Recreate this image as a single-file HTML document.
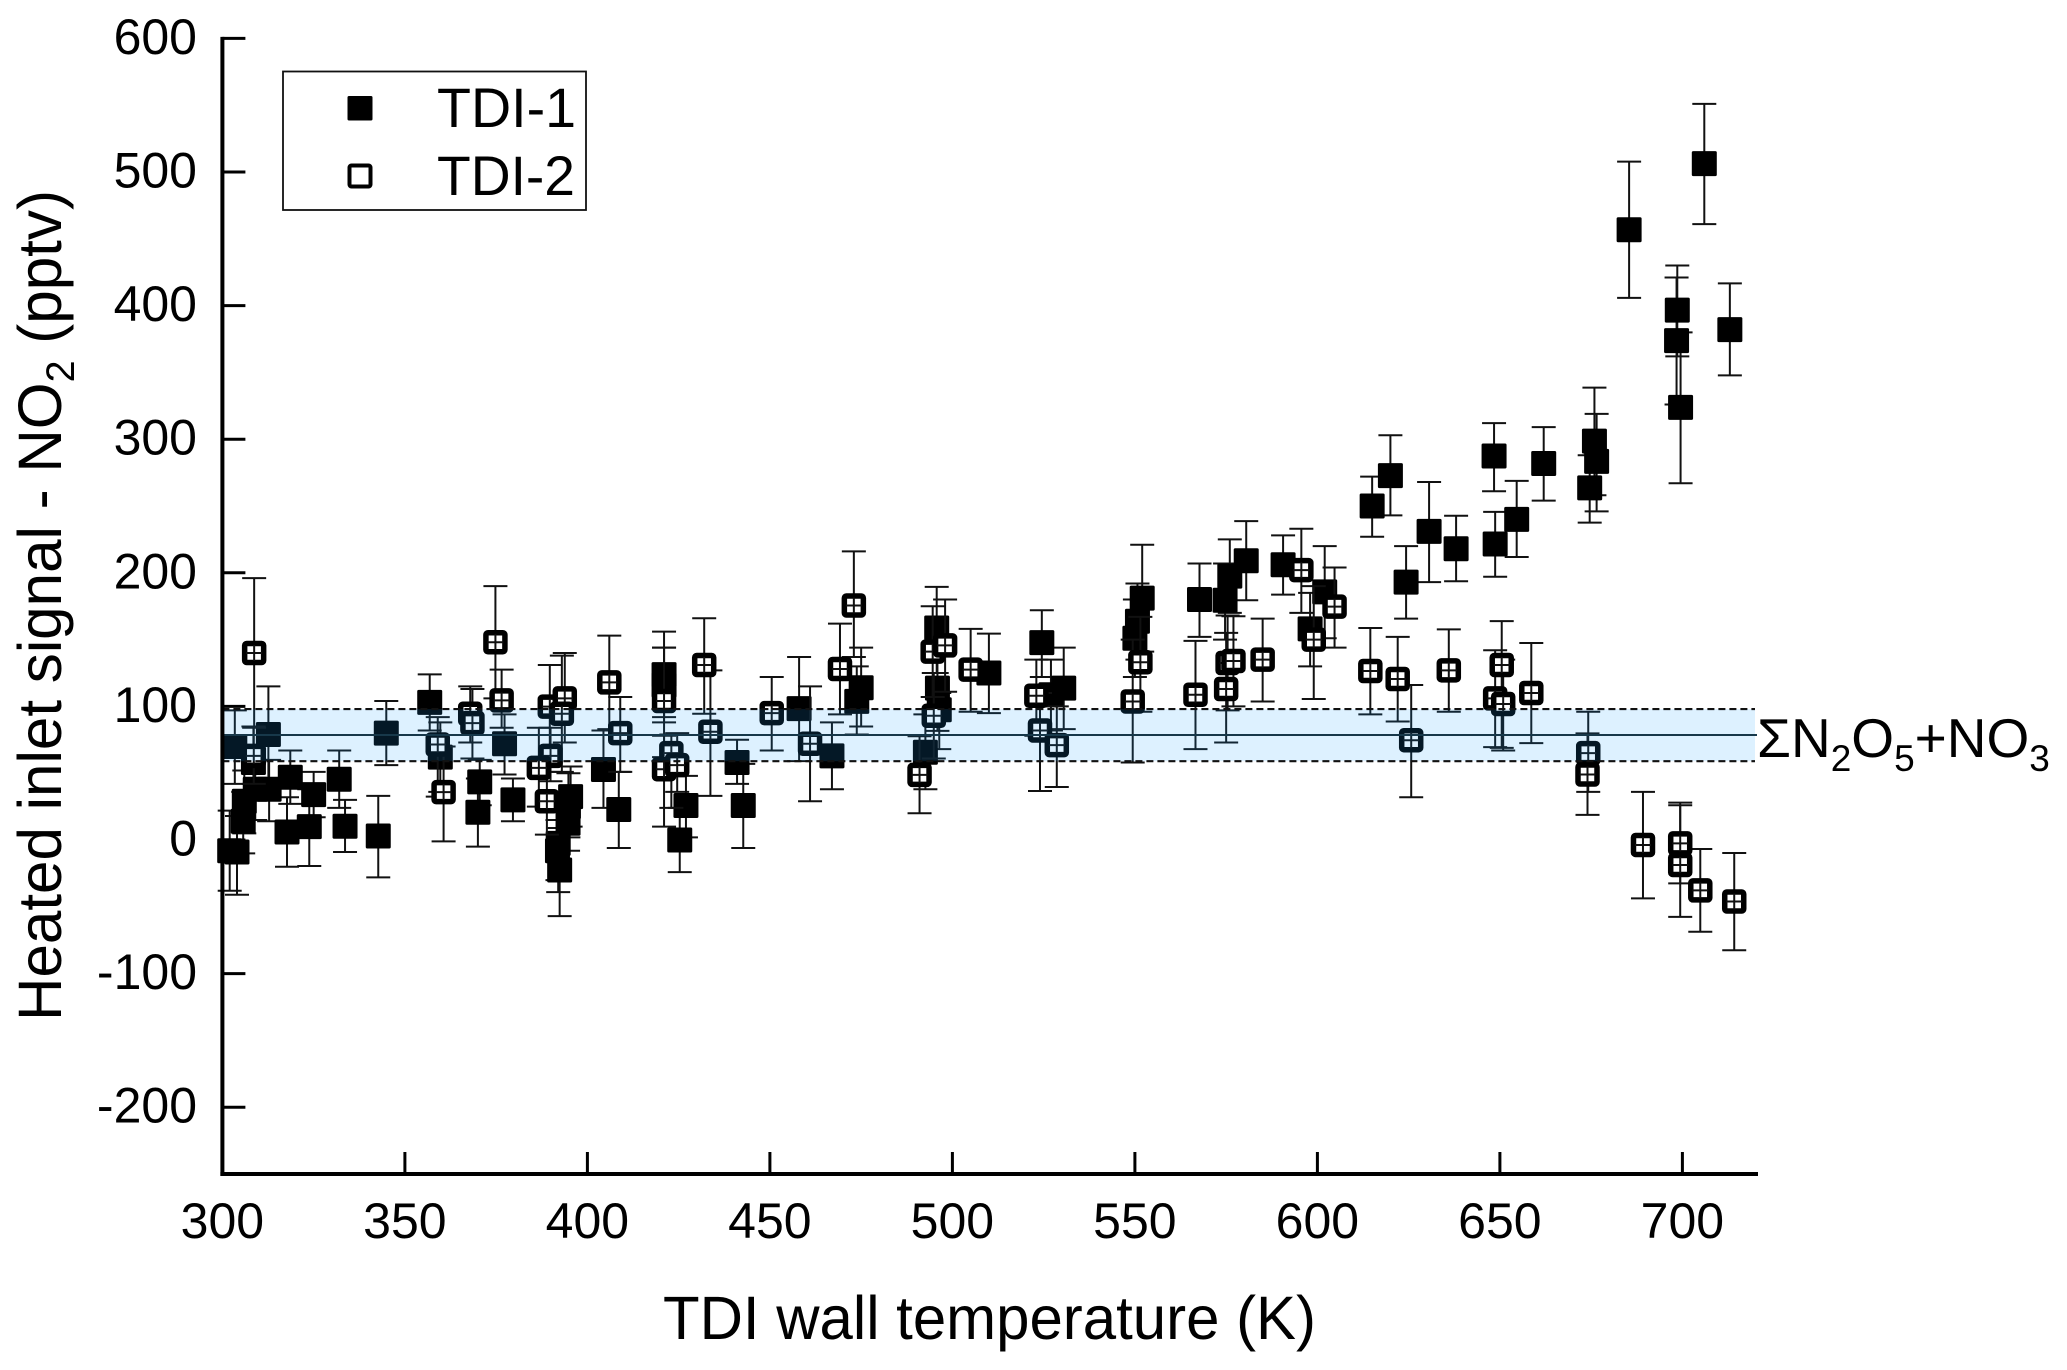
<!DOCTYPE html>
<html lang="en">
<head>
<meta charset="utf-8">
<title>Heated inlet signal vs TDI wall temperature</title>
<style>
html,body{margin:0;padding:0;background:#fff;width:2067px;height:1370px;overflow:hidden}
svg{display:block}
text{font-family:"Liberation Sans",Arial,sans-serif;fill:#000}
</style>
</head>
<body>
<svg id="chart" width="2067" height="1370" viewBox="0 0 2067 1370" xmlns="http://www.w3.org/2000/svg">
  <g id="marks-1"></g>
  <g id="marks-2"></g>
  <g id="band"></g>
  <g id="axes"></g>
  <text transform="translate(61,1021) rotate(-90)" font-size="61" textLength="831" lengthAdjust="spacingAndGlyphs">Heated inlet signal - NO<tspan font-size="40" dy="13">2</tspan><tspan dy="-13"> (pptv)</tspan></text>
  <text x="663" y="1339" font-size="61" textLength="653" lengthAdjust="spacingAndGlyphs">TDI wall temperature (K)</text>
  <text x="1757" y="757" font-size="55">ΣN<tspan font-size="37" dy="14">2</tspan><tspan dy="-14">O</tspan><tspan font-size="37" dy="14">5</tspan><tspan dy="-14">+NO</tspan><tspan font-size="37" dy="14">3</tspan></text>
  <g>
    <rect x="283" y="71.5" width="303" height="138.5" fill="#fff" stroke="#111" stroke-width="1.8"/>
    <rect x="347.5" y="96" width="25" height="24.5" rx="1.5" fill="#000"/>
    <rect x="349.5" y="165.5" width="21" height="21" rx="2" fill="#fff" stroke="#000" stroke-width="4"/>
    <text x="437" y="127" font-size="56" textLength="139" lengthAdjust="spacingAndGlyphs">TDI-1</text>
    <text x="437" y="195" font-size="56" textLength="138" lengthAdjust="spacingAndGlyphs">TDI-2</text>
  </g>
</svg>
<script>
const xTicks = [300, 350, 400, 450, 500, 550, 600, 650, 700];
const yTicks = [600, 500, 400, 300, 200, 100, 0, -100, -200];
const bandUpper = 98;
const bandLower = 59;
const bandMean = 78.6;

const tdi1Temp = [303.4,312.6,308.5,318.6,312.8,309,306,305.7,302,304,325,317.7,323.8,332,333.6,342.7,344.9,356.8,359.7,370.5,370,377.3,379.6,404.4,408.6,395.4,394.8,394.7,392,391.8,392.4,421,421,425.3,427,442.7,441,458,467,473.8,475,495.7,495.9,496.4,492.6,510,524.5,530.5,527,552,550.7,550,567.7,574.7,576,580.5,590.6,602,598,615,620,630.6,638,624.3,706,685.4,698.6,698.4,699.5,713,675.9,676.5,674.6,662,648.4,654.6,648.7];
const tdi1Value = [70,79,58,47,38,38,29,14,-8,-9,34,6,10,45.5,10.3,3,80,103,62,43.5,20.8,72,30,52.8,22.8,32.5,25,12.5,-2.5,-8,-22.5,123.8,116,0,25.8,25.8,58,98.3,63,103.8,114,158.7,113.7,97.5,65.7,125,147.7,113.7,108.7,181,163.7,151,180,179.5,197.5,209,206,185.7,158,250,272.7,231,218,193,506.3,456.8,396.6,373.8,323.8,382,298.6,283.4,263.6,281.8,287.4,240,221.6];
const tdi1Upper = [97,115,85,67,60,60,52,36,22,18,51,32,38,67,30,33,104,124,88,60,46,94,46,82,51,55,50,35,25,15,9,156,144,24,48,57,75,137,88,130,144,189.5,146,110,94,154.5,172,144,135,221,192,180,207,207,225,238.7,228,220,185,272,303,268,242.7,220,551,507.8,430,421,380,416.6,338.6,319,288,309,312,268.8,245.6];
const tdi1Lower = [42,43,32,27,14,15,5,-10,-38,-41,17,-20,-19.5,24,-9,-28,56,82,36,26,-5,49,14,24,-6,10,2,-8,-39,-30,-57,92,88,-24,2,-6,42,59,38,79,85,125,81.7,68,38,95,122,83,82,141,135,122,152,150,170,179.5,183.7,151,130,227,243,193,193.7,165.7,461,405.8,362,326,267,347.8,258,246,237.6,254,261,211.8,197];

const tdi2Temp = [308.7,308.6,374.8,367.9,368.5,376.5,359,360.6,389.7,393.8,393,389.9,386.7,388.9,406,409,432,433.7,421,423,421,424.6,450.5,461,469.2,473,494.6,498,494.9,491,505,523,524,528.6,549.4,551.5,566.6,575,575.4,577,585,595.6,599,604.7,614.5,622,636,625.7,650.5,648.7,650.9,658.6,674.2,674,689.2,699.4,699.4,704.9,714.2];
const tdi2Value = [140,63,148,94.5,87.5,104.5,71.5,35.8,99.8,106,94.5,63,54,29,118,80,131,81,104,65,53,56,95,72,128,175.5,141,145.7,93,48.7,127.5,108,82,71,103.7,133,108.7,113,132.5,134,135,202,150,174.7,126.5,120.5,127,74.7,131,106,101.8,110,65,49,-3.7,-2.5,-18.7,-37.7,-46];
const tdi2Upper = [196,85,190,115,113,127.5,92,70,131,140,138,84,84,55,153,107,166,127,144,79,78,80,122,115,162,216,175,180,125,77.7,158,135,110,100,150,167,149,155,168,167.5,165.7,233,190,204,158.7,152,157.7,116,163.8,142,135,147.5,96,79.8,36,28,26,-6.7,-9.7];
const tdi2Lower = [84,42,106,73,61,84,32.5,-1,51,73,51,44,25,4,83,51,94.5,33,62,24,10,36,67,29,94,137,107,111,61,20,96,78,36.7,39.7,58,96,68,73,97,100,103.7,170,105.5,144,94,88.7,96,32,69,69.5,67,72.5,36,18.8,-43.7,-32.5,-57.5,-68.7,-82.5];

const svgNS = 'http://www.w3.org/2000/svg';
const plotLeft = 222.4, pxPerK = 3.65, zeroY = 840, pxPerUnit = 1.336;
function xPos(t) { return plotLeft + (t - 300) * pxPerK; }
function yPos(v) { return zeroY - v * pxPerUnit; }
function make(tag, attrs, parent) {
  const el = document.createElementNS(svgNS, tag);
  for (const k in attrs) el.setAttribute(k, attrs[k]);
  parent.appendChild(el);
  return el;
}
function errorBar(parent, x, up, low) {
  const g = make('g', {stroke: '#111', 'stroke-width': 2, fill: 'none'}, parent);
  
  
  make('line', {x1: x, x2: x, y1: yPos(up), y2: yPos(low)}, g);
  make('line', {x1: x - 12, x2: x + 12, y1: yPos(up), y2: yPos(up)}, g);
  make('line', {x1: x - 12, x2: x + 12, y1: yPos(low), y2: yPos(low)}, g);
}

const g1 = document.getElementById('marks-1');
tdi1Temp.forEach(function (t, i) { errorBar(g1, xPos(t), tdi1Upper[i], tdi1Lower[i]); });
tdi1Temp.forEach(function (t, i) {
  const x = xPos(t), y = yPos(tdi1Value[i]);
  const r = make('rect', {x: x - 12.5, y: y - 12.5, width: 25, height: 25, rx: 1.5, fill: '#000'}, g1);
  
  
});

const g2 = document.getElementById('marks-2');
tdi2Temp.forEach(function (t, i) { errorBar(g2, xPos(t), tdi2Upper[i], tdi2Lower[i]); });
tdi2Temp.forEach(function (t, i) {
  const x = xPos(t), y = yPos(tdi2Value[i]);
  const r = make('rect', {x: x - 9.5, y: y - 9.5, width: 19, height: 19, rx: 2, fill: '#fff', stroke: '#000', 'stroke-width': 5.5}, g2);
  
  
  const c = make('path', {d: 'M' + x + ' ' + (y - 8) + 'V' + (y + 8) + 'M' + (x - 8) + ' ' + y + 'H' + (x + 8), stroke: '#111', 'stroke-width': 2, fill: 'none'}, g2);
  
  
});

const band = document.getElementById('band');
const bandRight = 1755;
const bandFill = make('rect', {x: plotLeft, y: yPos(bandUpper), width: bandRight - plotLeft, height: yPos(bandLower) - yPos(bandUpper), fill: 'rgb(25,160,255)', 'fill-opacity': 0.15}, band);


const meanLine = make('line', {x1: plotLeft, x2: 1757, y1: yPos(bandMean), y2: yPos(bandMean), stroke: '#17384a', 'stroke-width': 2}, band);


[bandUpper, bandLower].forEach(function (v) {
  const d = make('line', {x1: plotLeft, x2: bandRight, y1: yPos(v), y2: yPos(v), stroke: '#111', 'stroke-width': 2.2, 'stroke-dasharray': '7 4'}, band);
  
  
});

const axes = document.getElementById('axes');
const axisBottom = yPos(-250);
const yAxis = make('line', {x1: plotLeft, x2: plotLeft, y1: yPos(600) - 1.5, y2: axisBottom + 2, stroke: '#000', 'stroke-width': 4}, axes);


const xAxis = make('line', {x1: plotLeft - 2, x2: 1758, y1: axisBottom, y2: axisBottom, stroke: '#000', 'stroke-width': 4}, axes);


yTicks.forEach(function (v) {
  const y = yPos(v);
  const t = make('line', {x1: plotLeft, x2: plotLeft + 23, y1: y, y2: y, stroke: '#000', 'stroke-width': 3}, axes);
  
  
  const l = make('text', {x: 197, y: y + 15.5, 'text-anchor': 'end', 'font-size': 50}, axes);
  
  
  l.textContent = v;
});
xTicks.forEach(function (v) {
  const x = xPos(v);
  const t = make('line', {x1: x, x2: x, y1: axisBottom, y2: axisBottom - 22, stroke: '#000', 'stroke-width': 3}, axes);
  
  
  const l = make('text', {x: x, y: 1238, 'text-anchor': 'middle', 'font-size': 50}, axes);
  
  
  l.textContent = v;
});
</script>
</body>
</html>
